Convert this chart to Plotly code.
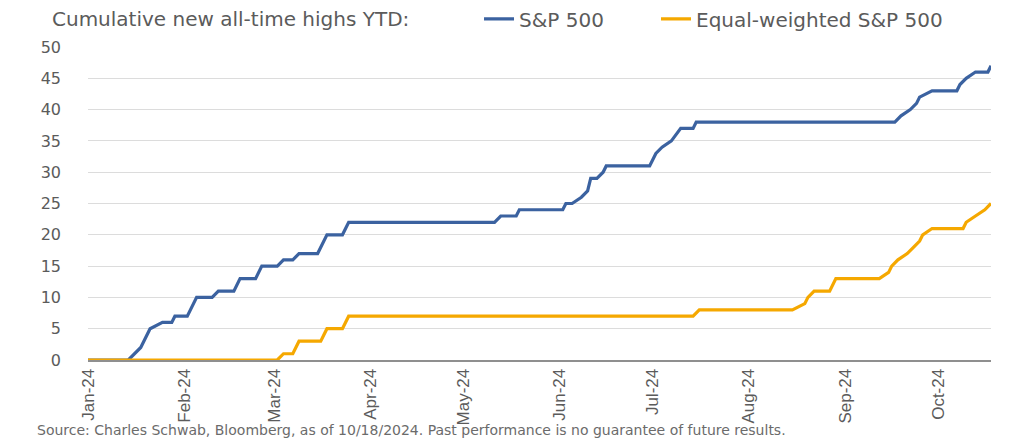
import plotly.graph_objects as go

# S&P 500 cumulative new all-time highs (breakpoints)
spx_dates = ["2024-01-01", "2024-01-14", "2024-01-18", "2024-01-21", "2024-01-25", "2024-01-28",
             "2024-01-29", "2024-02-02", "2024-02-05", "2024-02-10", "2024-02-12", "2024-02-17",
             "2024-02-19", "2024-02-24", "2024-02-26", "2024-03-02", "2024-03-04", "2024-03-07",
             "2024-03-09", "2024-03-15", "2024-03-18", "2024-03-23", "2024-03-25", "2024-05-11",
             "2024-05-13", "2024-05-18", "2024-05-19", "2024-06-02", "2024-06-03", "2024-06-05",
             "2024-06-08", "2024-06-10", "2024-06-11", "2024-06-13", "2024-06-15", "2024-06-16",
             "2024-06-30", "2024-07-02", "2024-07-04", "2024-07-07", "2024-07-10", "2024-07-14",
             "2024-07-15", "2024-09-17", "2024-09-19", "2024-09-22", "2024-09-24", "2024-09-25",
             "2024-09-29", "2024-10-07", "2024-10-08", "2024-10-10", "2024-10-13", "2024-10-17",
             "2024-10-18"]
spx_values = [0, 0, 2, 5, 6, 6,
              7, 7, 10, 10, 11, 11,
              13, 13, 15, 15, 16, 16,
              17, 17, 20, 20, 22, 22,
              23, 23, 24, 24, 25, 25,
              26, 27, 29, 29, 30, 31,
              31, 33, 34, 35, 37, 37,
              38, 38, 39, 40, 41, 42,
              43, 43, 44, 45, 46, 46,
              47]

# Equal-weighted S&P 500 cumulative new all-time highs
ew_dates = ["2024-01-01", "2024-03-02", "2024-03-04", "2024-03-07", "2024-03-09", "2024-03-16",
            "2024-03-18", "2024-03-23", "2024-03-25", "2024-07-14", "2024-07-16", "2024-08-15",
            "2024-08-19", "2024-08-20", "2024-08-22", "2024-08-27", "2024-08-29", "2024-09-12",
            "2024-09-15", "2024-09-16", "2024-09-18", "2024-09-21", "2024-09-23", "2024-09-25",
            "2024-09-26", "2024-09-29", "2024-10-09", "2024-10-10", "2024-10-13", "2024-10-16",
            "2024-10-18"]
ew_values = [0, 0, 1, 1, 3, 3,
             5, 5, 7, 7, 8, 8,
             9, 10, 11, 11, 13, 13,
             14, 15, 16, 17, 18, 19,
             20, 21, 21, 22, 23, 24,
             25]

tick_dates = ["2024-01-01", "2024-02-01", "2024-03-01", "2024-04-01", "2024-05-01",
              "2024-06-01", "2024-07-01", "2024-08-01", "2024-09-01", "2024-10-01"]
tick_labels = ["Jan-24", "Feb-24", "Mar-24", "Apr-24", "May-24",
               "Jun-24", "Jul-24", "Aug-24", "Sep-24", "Oct-24"]
y_ticks = [0, 5, 10, 15, 20, 25, 30, 35, 40, 45, 50]

BLUE = "#3b62a0"
GOLD = "#f5a800"
TEXT = "#5b5b5b"
legend_font = dict(family="DejaVu Sans", size=20, color=TEXT)

fig = go.Figure()
fig.add_trace(go.Scatter(x=spx_dates, y=spx_values, mode="lines", name="S&P 500",
                         line=dict(color=BLUE, width=3.2), hoverinfo="skip", legend="legend"))
fig.add_trace(go.Scatter(x=ew_dates, y=ew_values, mode="lines", name="Equal-weighted S&P 500",
                         line=dict(color=GOLD, width=3.2), hoverinfo="skip", legend="legend2"))

fig.update_layout(
    width=1016, height=436,
    margin=dict(l=80, r=33, t=39, b=84, autoexpand=False),
    paper_bgcolor="white", plot_bgcolor="white",
    showlegend=True,
    legend=dict(orientation="h", xref="container", yref="container",
                x=0.4636, xanchor="left", y=0.975, yanchor="middle",
                font=legend_font, bgcolor="rgba(0,0,0,0)"),
    legend2=dict(orientation="h", xref="container", yref="container",
                 x=0.6378, xanchor="left", y=0.975, yanchor="middle",
                 font=legend_font, bgcolor="rgba(0,0,0,0)"),
    xaxis=dict(type="date", range=["2024-01-01", "2024-10-18"], automargin=False,
               tickvals=tick_dates, ticktext=tick_labels, tickangle=-90,
               tickfont=dict(family="Liberation Sans", size=17, color=TEXT),
               showgrid=False, showline=True, linecolor="#8f8f8f", linewidth=2,
               ticks="", zeroline=False, fixedrange=True),
    yaxis=dict(range=[0, 50], tickvals=y_ticks, automargin=False,
               tickfont=dict(family="DejaVu Sans", size=16, color=TEXT),
               showgrid=True, gridcolor="#dcdcdc", gridwidth=1,
               zeroline=False, showline=False, ticks="", ticklabelstandoff=26,
               fixedrange=True),
    annotations=[
        dict(text="Cumulative new all-time highs YTD:", xref="paper", yref="paper",
             x=-0.042, y=1.09, xanchor="left", yanchor="middle", showarrow=False,
             font=dict(family="DejaVu Sans", size=20, color=TEXT)),
        dict(text="Source: Charles Schwab, Bloomberg, as of 10/18/2024. Past performance is no guarantee of future results.",
             xref="paper", yref="paper", x=-0.059, y=-0.224, xanchor="left", yanchor="middle",
             showarrow=False, font=dict(family="DejaVu Sans", size=14, color="#6b6b6b")),
    ],
)

fig.write_html("out.html")
